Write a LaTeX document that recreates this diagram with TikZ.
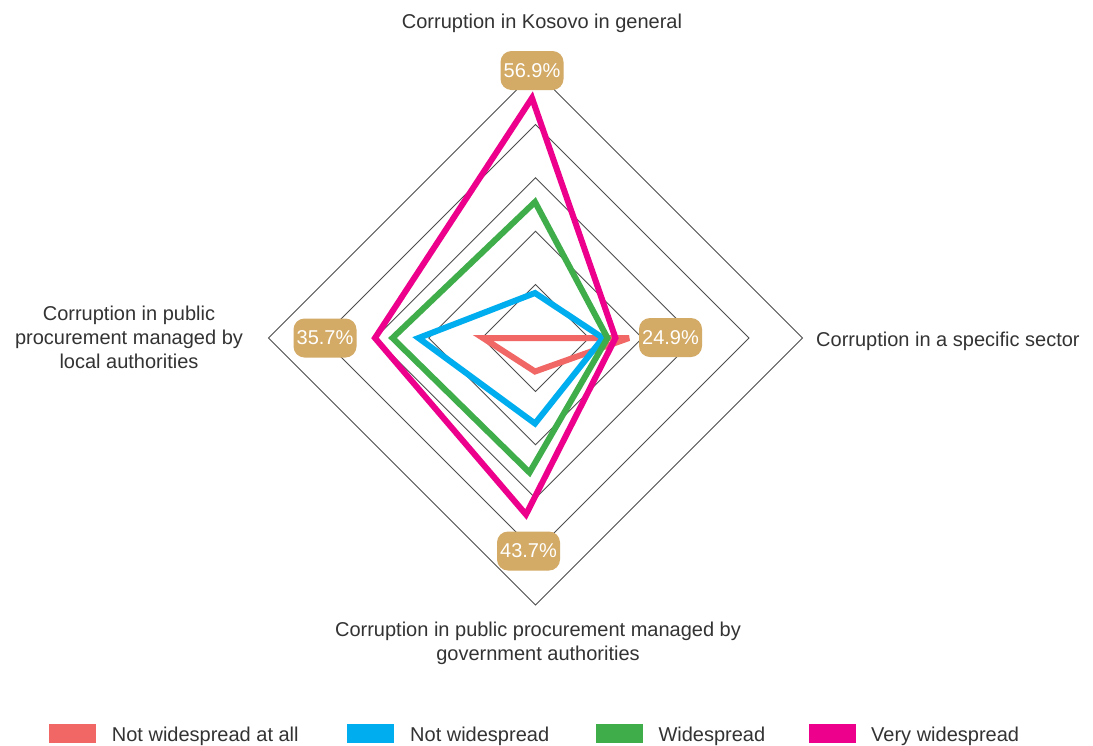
\documentclass[tikz,border=0pt]{standalone}
\usepackage{fontspec}
\setmainfont{Liberation Sans}
\definecolor{cred}{HTML}{F16765}
\definecolor{cblue}{HTML}{00AEEF}
\definecolor{cgreen}{HTML}{3FAE4A}
\definecolor{cpink}{HTML}{EC008C}
\definecolor{ctan}{HTML}{D3AA66}
\definecolor{ctext}{HTML}{333333}
\definecolor{cgrid}{HTML}{4D4D4D}
\begin{document}
\begin{tikzpicture}[x=1pt,y=-1pt,
  series/.style={line width=6pt, line join=miter, miter limit=4},
  valbox/.style={fill=ctan, rounded corners=11pt, minimum width=63pt, minimum height=39pt,
    text=white, font=\fontsize{20}{24}\selectfont, inner sep=0pt},
  axlabel/.style={text=ctext, font=\fontsize{20}{24}\selectfont, inner sep=0pt},
  gridline/.style={cgrid, line width=0.9pt},
  swatch/.style={minimum width=47pt, minimum height=19pt, inner sep=0pt},
  legtext/.style={text=ctext, font=\fontsize{20}{24}\selectfont, inner sep=0pt, anchor=base west}]
\useasboundingbox (0,0) rectangle (1093,745);
\fill[white] (0,0) rectangle (1093,745);
% grid
\coordinate (O) at (535.5,338);
\foreach \r in {53.4,106.8,160.2,213.6,267}{
  \draw[gridline] ([yshift=\r pt]O) -- ([xshift=\r pt]O) -- ([yshift=-\r pt]O) -- ([xshift=-\r pt]O) -- cycle;
}
% series
\coordinate (r1) at (535,338);   \coordinate (r2) at (629,338);
\coordinate (r3) at (535,371.5); \coordinate (r4) at (483,338);
\coordinate (b1) at (535,293);   \coordinate (b2) at (603,338);
\coordinate (b3) at (535,423.5); \coordinate (b4) at (418.5,338);
\coordinate (g1) at (535,202);   \coordinate (g2) at (607.5,338);
\coordinate (g3) at (529.5,472.5); \coordinate (g4) at (392.5,338);
\coordinate (p1) at (532,98);    \coordinate (p2) at (615.5,338);
\coordinate (p3) at (526,514.5); \coordinate (p4) at (375,338);
\draw[series, cred] (r1) -- (r2) -- (r3) -- (r4) -- cycle;
\draw[series, cblue] (b1) -- (b2) -- (b3) -- (b4) -- cycle;
\draw[series, cgreen] (g1) -- (g2) -- (g3) -- (g4) -- cycle;
\draw[series, cpink] (p1) -- (p2) -- (p3) -- (p4) -- cycle;
% value boxes
\node[valbox] (v1) at (532,70.5) {56.9\%};
\node[valbox] (v2) at (670.5,337.5) {24.9\%};
\node[valbox] (v3) at (528.5,551) {43.7\%};
\node[valbox] (v4) at (325,338) {35.7\%};
% axis labels
\node[axlabel, anchor=base] (ltop) at (542,28.5) {Corruption in Kosovo in general};
\node[axlabel, anchor=base west] (lright) at (816,346.5) {Corruption in a specific sector};
\node[axlabel, anchor=base] (lleft1) at (129,320.7) {Corruption in public};
\node[axlabel, anchor=base] (lleft2) at (129,344.5) {procurement managed by};
\node[axlabel, anchor=base] (lleft3) at (129,368.3) {local authorities};
\node[axlabel, anchor=base] (lbot1) at (538,636.5) {Corruption in public procurement managed by};
\node[axlabel, anchor=base] (lbot2) at (538,660.3) {government authorities};
% legend
\node[swatch, fill=cred] (s1) at (72.5,733.5) {};
\node[legtext] (t1) at (111.7,741) {Not widespread at all};
\node[swatch, fill=cblue] (s2) at (370.5,733.5) {};
\node[legtext] (t2) at (410,741) {Not widespread};
\node[swatch, fill=cgreen] (s3) at (619.5,733.5) {};
\node[legtext] (t3) at (658.3,741) {Widespread};
\node[swatch, fill=cpink] (s4) at (832.5,733.5) {};
\node[legtext] (t4) at (871,741) {Very widespread};
\end{tikzpicture}
\end{document}
